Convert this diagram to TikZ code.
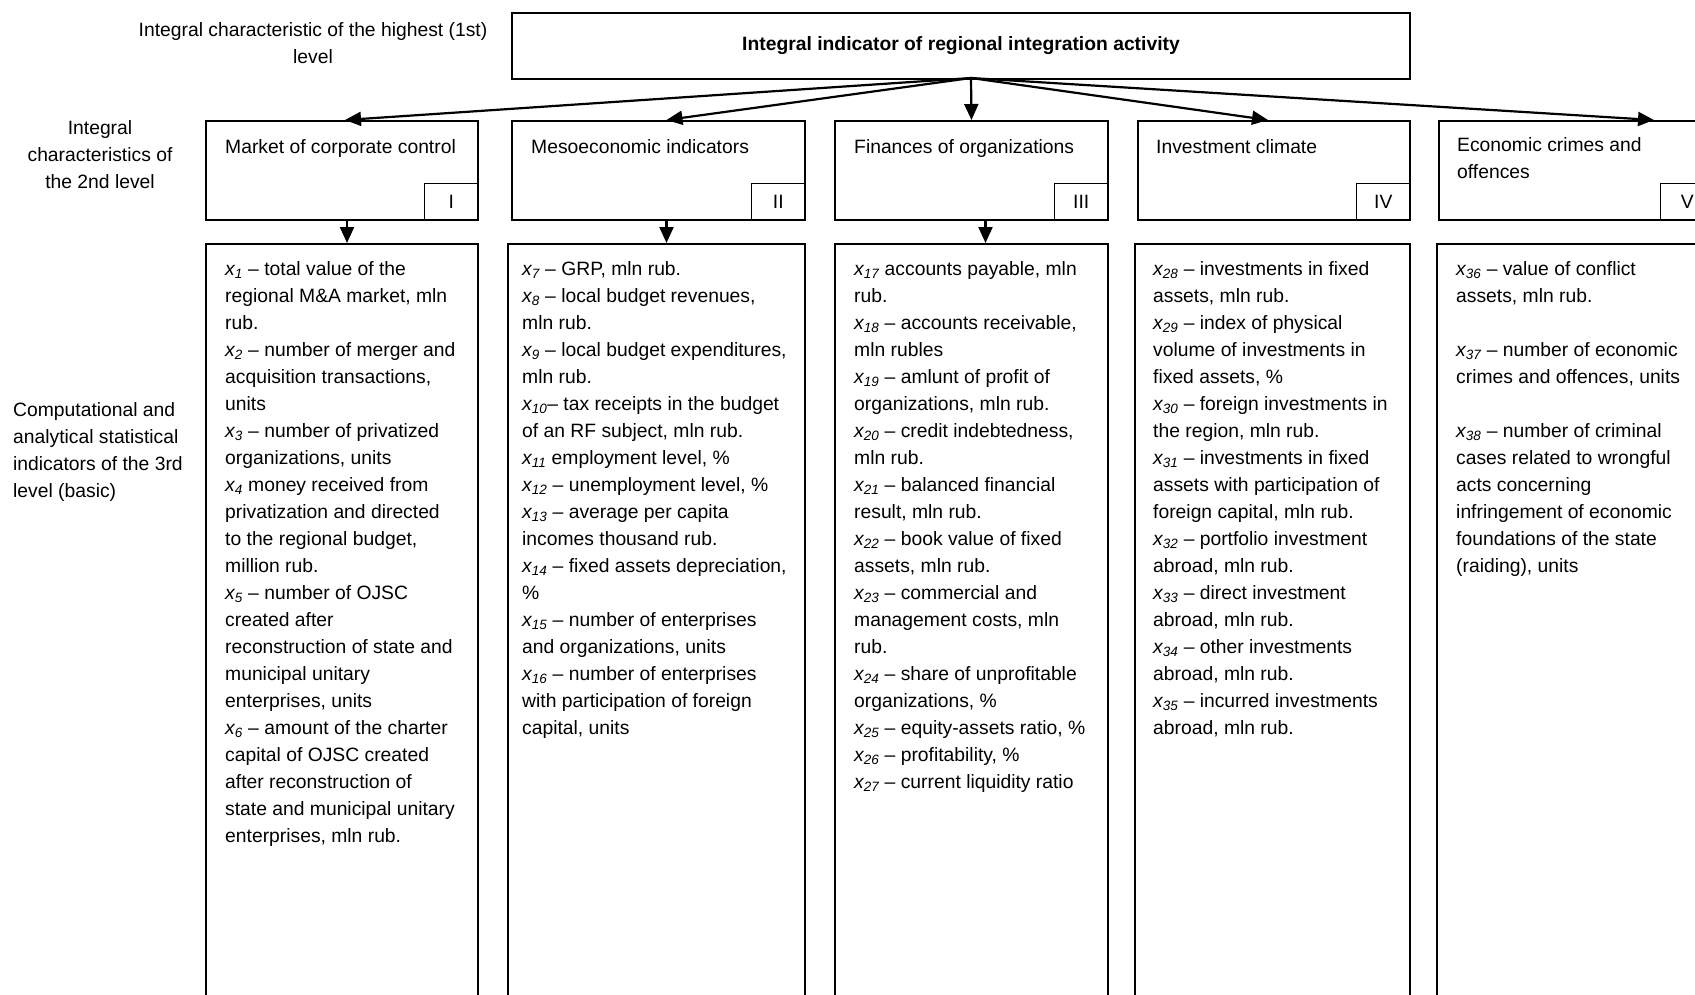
\documentclass[tikz,border=0pt]{standalone}
\usepackage{fontspec}
\setmainfont{Liberation Sans}
\usetikzlibrary{arrows.meta}

\newcommand{\fs}{\fontsize{19.3}{27}\selectfont}
\newcommand{\xv}[1]{\textit{x\textsubscript{#1}}}

\begin{document}
\begin{tikzpicture}[x=1pt, y=-1pt, font=\fs,
    box/.style={draw, line width=2pt, inner sep=0pt, anchor=north west},
    numbox/.style={draw, line width=1.5pt, minimum width=54pt, minimum height=37pt, inner sep=0pt, anchor=south east},
    txt/.style={anchor=north west, align=left, inner sep=0pt},
    lbl/.style={anchor=north, align=center, inner sep=0pt},
    arr/.style={-{Triangle[length=16pt,width=14pt]}, line width=2.2pt}]
    \useasboundingbox (0,0) rectangle (1695,994);
    \clip (0,0) rectangle (1695,994);

    % Level names on the left
    \node[lbl] (n1) at (313,22) {Integral characteristic of the highest (1st)\\level};
    \node[lbl] (n2) at (100,120) {Integral\\characteristics of\\the 2nd level};
    \node[txt] (n3) at (13,402) {Computational and\\analytical statistical\\indicators of the 3rd\\level (basic)};

    % Draw node for the 1st level
    \node[box, minimum width=898pt, minimum height=66pt, font=\fs\bfseries] (top) at (511,12) {Integral indicator of regional integration activity};
    \coordinate (hub) at (971,78);

    % Draw nodes for the 2nd level
    \node[box, minimum width=272pt, minimum height=99pt] (g1) at (205,120) {};
    \node[box, minimum width=293pt, minimum height=99pt] (g2) at (511,120) {};
    \node[box, minimum width=273pt, minimum height=99pt] (g3) at (834,120) {};
    \node[box, minimum width=272pt, minimum height=99pt] (g4) at (1137,120) {};
    \node[box, minimum width=275pt, minimum height=99pt] (g5) at (1438,120) {};

    \node[txt] (t1) at (225,139) {Market of corporate control};
    \node[txt] (t2) at (531,139) {Mesoeconomic indicators};
    \node[txt] (t3) at (854,139) {Finances of organizations};
    \node[txt] (t4) at (1156,139) {Investment climate};
    \node[txt] (t5) at (1457,137) {Economic crimes and\\offences};

    \node[numbox] (r1) at (g1.south east) {I};
    \node[numbox] (r2) at (g2.south east) {II};
    \node[numbox] (r3) at (g3.south east) {III};
    \node[numbox] (r4) at (g4.south east) {IV};
    \node[numbox] (r5) at (g5.south east) {V};

    % Draw nodes for the 3rd level
    \node[box, minimum width=272pt, minimum height=800pt] (s1) at (205,243) {};
    \node[box, minimum width=297pt, minimum height=800pt] (s2) at (507,243) {};
    \node[box, minimum width=273pt, minimum height=800pt] (s3) at (834,243) {};
    \node[box, minimum width=275pt, minimum height=800pt] (s4) at (1134,243) {};
    \node[box, minimum width=300pt, minimum height=800pt] (s5) at (1436,243) {};

    \node[txt] (x1) at (225,261) {\xv{1} -- total value of the\\regional M\&A market, mln\\rub.\\
        \xv{2} -- number of merger and\\acquisition transactions,\\units\\
        \xv{3} -- number of privatized\\organizations, units\\
        \xv{4} money received from\\privatization and directed\\to the regional budget,\\million rub.\\
        \xv{5} -- number of OJSC\\created after\\reconstruction of state and\\municipal unitary\\enterprises, units\\
        \xv{6} -- amount of the charter\\capital of OJSC created\\after reconstruction of\\state and municipal unitary\\enterprises, mln rub.};
    \node[txt] (x2) at (522,261) {\xv{7} -- GRP, mln rub.\\
        \xv{8} -- local budget revenues,\\mln rub.\\
        \xv{9} -- local budget expenditures,\\mln rub.\\
        \xv{10}-- tax receipts in the budget\\of an RF subject, mln rub.\\
        \xv{11} employment level, \%\\
        \xv{12} -- unemployment level, \%\\
        \xv{13} -- average per capita\\incomes thousand rub.\\
        \xv{14} -- fixed assets depreciation,\\\%\\
        \xv{15} -- number of enterprises\\and organizations, units\\
        \xv{16} -- number of enterprises\\with participation of foreign\\capital, units};
    \node[txt] (x3) at (854,261) {\xv{17} accounts payable, mln\\rub.\\
        \xv{18} -- accounts receivable,\\mln rubles\\
        \xv{19} -- amlunt of profit of\\organizations, mln rub.\\
        \xv{20} -- credit indebtedness,\\mln rub.\\
        \xv{21} -- balanced financial\\result, mln rub.\\
        \xv{22} -- book value of fixed\\assets, mln rub.\\
        \xv{23} -- commercial and\\management costs, mln\\rub.\\
        \xv{24} -- share of unprofitable\\organizations, \%\\
        \xv{25} -- equity-assets ratio, \%\\
        \xv{26} -- profitability, \%\\
        \xv{27} -- current liquidity ratio};
    \node[txt] (x4) at (1153,261) {\xv{28} -- investments in fixed\\assets, mln rub.\\
        \xv{29} -- index of physical\\volume of investments in\\fixed assets, \%\\
        \xv{30} -- foreign investments in\\the region, mln rub.\\
        \xv{31} -- investments in fixed\\assets with participation of\\foreign capital, mln rub.\\
        \xv{32} -- portfolio investment\\abroad, mln rub.\\
        \xv{33} -- direct investment\\abroad, mln rub.\\
        \xv{34} -- other investments\\abroad, mln rub.\\
        \xv{35} -- incurred investments\\abroad, mln rub.};
    \node[txt] (x5) at (1456,261) {\xv{36} -- value of conflict\\assets, mln rub.\\[27pt]
        \xv{37} -- number of economic\\crimes and offences, units\\[27pt]
        \xv{38} -- number of criminal\\cases related to wrongful\\acts concerning\\infringement of economic\\foundations of the state\\(raiding), units};

    % Draw arrows from the 1st level
    \draw[arr] (hub) -- ([xshift=3pt]g1.north);
    \draw[arr] (hub) -- ([xshift=8pt]g2.north);
    \draw[arr] (hub) -- (g3.north);
    \draw[arr] (hub) -- ([xshift=-6pt]g4.north);
    \draw[arr] (hub) -- ([xshift=216pt]g5.north west);

    % Draw arrows to the 3rd level
    \draw[arr] ([xshift=5pt]g1.south) -- ([xshift=5pt]g1.south |- s1.north);
    \draw[arr] ([xshift=8pt]g2.south) -- ([xshift=8pt]g2.south |- s2.north);
    \draw[arr] ([xshift=14pt]g3.south) -- ([xshift=14pt]g3.south |- s3.north);
\end{tikzpicture}
\end{document}
